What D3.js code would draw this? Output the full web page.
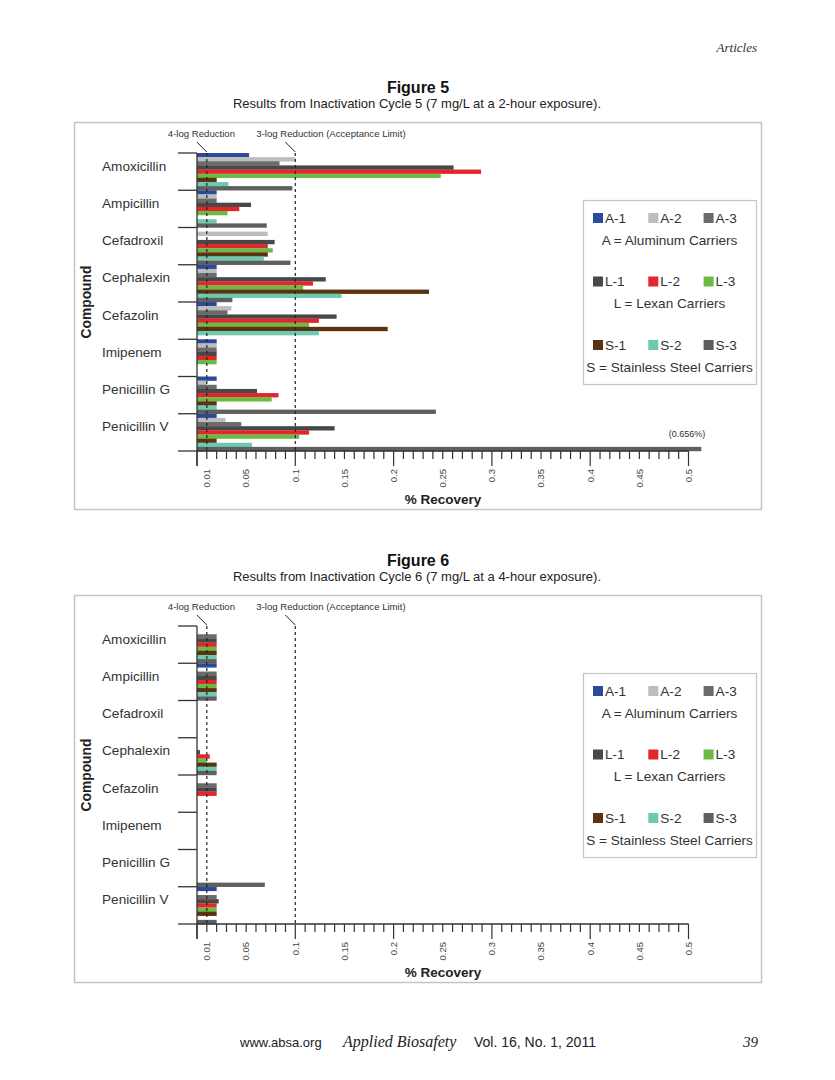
<!DOCTYPE html>
<html>
<head>
<meta charset="utf-8">
<script src="https://cdn.jsdelivr.net/npm/d3@7/dist/d3.min.js"></script>
<style>
  html, body { margin: 0; padding: 0; background: #fff; }
  svg { display: block; }
  text { font-family: "Liberation Sans", Arial, sans-serif; fill: #333; }
</style>
</head>
<body>
<svg id="page" width="835" height="1080"></svg>
<script>
// ---------------- data ----------------
const categories = ["Amoxicillin", "Ampicillin", "Cefadroxil", "Cephalexin", "Cefazolin", "Imipenem", "Penicillin G", "Penicillin V"];
const seriesKeys = ["A-1", "A-2", "A-3", "L-1", "L-2", "L-3", "S-1", "S-2", "S-3"];
const seriesColors = ["#2b4a9b", "#bdbdbd", "#6b6b6b", "#484848", "#e3262b", "#6cb945", "#5b3312", "#6ccab1", "#5f5f5f"];
const legendGroups = ["A = Aluminum Carriers", "L = Lexan Carriers", "S = Stainless Steel Carriers"];
const tickValues = [0.01, 0.05, 0.1, 0.15, 0.2, 0.25, 0.3, 0.35, 0.4, 0.45, 0.5];
const tickLabels = ["0.01", "0.05", "0.1", "0.15", "0.2", "0.25", "0.3", "0.35", "0.4", "0.45", "0.5"];
const limitValues = [0.01, 0.1];
const limitLabels = ["4-log Reduction", "3-log Reduction (Acceptance Limit)"];
const displayCap = 0.513; // off-scale bar is drawn broken here

// Figure 5 (% recovery), one array per series, in category order; null = no bar
const fig5_A1 = [0.053, 0.02, null, 0.02, 0.02, 0.02, 0.02, 0.02];
const fig5_A2 = [0.100, 0.02, 0.072, 0.02, 0.035, 0.02, 0.01, 0.029];
const fig5_A3 = [0.084, 0.02, null, 0.02, 0.031, 0.02, 0.02, 0.045];
const fig5_L1 = [0.261, 0.055, 0.079, 0.131, 0.142, 0.02, 0.061, 0.140];
const fig5_L2 = [0.289, 0.043, 0.072, 0.118, 0.124, 0.02, 0.083, 0.114];
const fig5_L3 = [0.248, 0.031, 0.077, 0.108, 0.114, 0.02, 0.076, 0.104];
const fig5_S1 = [0.02, null, 0.072, 0.236, 0.194, null, 0.02, 0.02];
const fig5_S2 = [0.032, 0.02, 0.068, 0.147, 0.124, null, 0.02, 0.056];
const fig5_S3 = [0.097, 0.071, 0.095, 0.036, null, null, 0.243, 0.656];

// Figure 6
const fig6_A1 = [null, 0.02, null, null, null, null, null, 0.02];
const fig6_A2 = [null, null, null, null, null, null, null, null];
const fig6_A3 = [0.02, 0.02, null, null, 0.02, null, null, 0.02];
const fig6_L1 = [0.02, 0.02, null, 0.003, 0.02, null, null, 0.022];
const fig6_L2 = [0.02, 0.02, null, 0.013, 0.02, null, null, 0.02];
const fig6_L3 = [0.02, 0.02, null, 0.01, null, null, null, 0.02];
const fig6_S1 = [0.02, 0.02, null, 0.02, null, null, null, 0.02];
const fig6_S2 = [0.02, 0.02, null, 0.02, null, null, null, null];
const fig6_S3 = [0.02, 0.02, null, 0.02, null, null, 0.069, 0.02];

const fig5 = [fig5_A1, fig5_A2, fig5_A3, fig5_L1, fig5_L2, fig5_L3, fig5_S1, fig5_S2, fig5_S3];
const fig6 = [fig6_A1, fig6_A2, fig6_A3, fig6_L1, fig6_L2, fig6_L3, fig6_S1, fig6_S2, fig6_S3];

// ---------------- drawing ----------------
const svg = d3.select("#page");

svg.append("text").attr("x", 757).attr("y", 52).attr("text-anchor", "end")
  .style("font-family", "'Liberation Serif', serif").style("font-style", "italic")
  .style("font-size", "13px").text("Articles");

function drawFigure(offsetY, title, subtitle, seriesData) {
  const g = svg.append("g").attr("transform", `translate(0,${offsetY})`);

  g.append("text").attr("x", 418).attr("y", 93).attr("text-anchor", "middle")
    .style("font-size", "16px").style("font-weight", "bold").style("fill", "#111").text(title);
  g.append("text").attr("x", 417).attr("y", 108).attr("text-anchor", "middle")
    .style("font-size", "13px").style("fill", "#222").text(subtitle);

  g.append("rect").attr("x", 74.5).attr("y", 122.5).attr("width", 687).attr("height", 387)
    .attr("fill", "none").attr("stroke", "#c4c4c4").attr("stroke-width", 1.5);

  const x = d3.scaleLinear().domain([0, 0.5]).range([197, 688.5]);
  const y = d3.scaleBand().domain(categories).range([153, 451]);
  const yi = d3.scaleBand().domain(seriesKeys).range([0, y.bandwidth()]);

  // bars
  seriesKeys.forEach((key, si) => {
    const vals = seriesData[si];
    g.append("g").selectAll("rect")
      .data(categories.map((c, ci) => ({ c, v: vals[ci] })).filter(d => d.v !== null))
      .join("rect")
      .attr("x", x(0))
      .attr("y", d => y(d.c) + yi(key))
      .attr("width", d => x(Math.min(d.v, displayCap)) - x(0))
      .attr("height", yi.bandwidth() + 0.2)
      .attr("fill", seriesColors[si]);
  });

  // off-scale note
  seriesData.forEach((vals, si) => {
    vals.forEach((v, ci) => {
      if (v !== null && v > displayCap) {
        g.append("text").attr("x", x(displayCap) + 4).attr("y", y(categories[ci]) + yi(seriesKeys[si]) - 10)
          .attr("text-anchor", "end").style("font-size", "9px").text(`(${v.toFixed(3)}%)`);
      }
    });
  });

  // y axis line + category ticks
  g.append("line").attr("x1", x(0)).attr("x2", x(0)).attr("y1", y.range()[0]).attr("y2", y.range()[1] + 15)
    .attr("stroke", "#333").attr("stroke-width", 1.3);
  const bounds = categories.map(c => y(c)).concat([y.range()[1]]);
  g.append("g").selectAll("line").data(bounds).join("line")
    .attr("x1", 178).attr("x2", x(0)).attr("y1", d => d).attr("y2", d => d)
    .attr("stroke", "#333").attr("stroke-width", 1.3);
  g.append("line").attr("x1", x(0)).attr("x2", x(0.5)).attr("y1", y.range()[1]).attr("y2", y.range()[1])
    .attr("stroke", "#333").attr("stroke-width", 1.3);

  g.append("g").selectAll("text").data(categories).join("text")
    .attr("x", 102).attr("y", d => y(d) + y.bandwidth() / 2 - 4.5)
    .attr("dominant-baseline", "middle").style("font-size", "13.6px").text(d => d);

  g.append("text").attr("transform", `translate(91,${(y.range()[0] + y.range()[1]) / 2}) rotate(-90)`)
    .attr("text-anchor", "middle").style("font-size", "13.8px").style("font-weight", "bold")
    .style("fill", "#222").text("Compound");

  // x ticks every 0.01, longer on tenths
  const minor = d3.range(0, 51).map(i => i / 100);
  g.append("g").selectAll("line").data(minor).join("line")
    .attr("x1", d => x(d)).attr("x2", d => x(d))
    .attr("y1", y.range()[1])
    .attr("y2", (d, i) => y.range()[1] + (i % 10 === 0 ? 15 : 8))
    .attr("stroke", "#333").attr("stroke-width", 1.2);

  g.append("g").selectAll("text").data(tickValues).join("text")
    .attr("transform", d => `translate(${x(d) + 3.3},${y.range()[1] + 18}) rotate(-90)`)
    .attr("text-anchor", "end").style("font-size", "9.5px").style("fill", "#444")
    .text((d, i) => tickLabels[i]);

  g.append("text").attr("x", 443).attr("y", 504).attr("text-anchor", "middle")
    .style("font-size", "13.5px").style("font-weight", "bold").style("fill", "#222").text("% Recovery");

  // reduction lines
  limitValues.forEach((v, i) => {
    const lx = x(v);
    g.append("line").attr("x1", lx).attr("x2", lx).attr("y1", y.range()[0]).attr("y2", y.range()[1])
      .attr("stroke", "#222").attr("stroke-width", 1.2).attr("stroke-dasharray", "3,3");
    g.append("line").attr("x1", lx - 10).attr("x2", lx).attr("y1", 142).attr("y2", 152)
      .attr("stroke", "#222").attr("stroke-width", 1);
    g.append("text").attr("x", lx - 39).attr("y", 137)
      .attr("text-anchor", "start").style("font-size", "9.6px").style("fill", "#333").text(limitLabels[i]);
  });

  // legend
  const lg = g.append("g");
  lg.append("rect").attr("x", 583.5).attr("y", 200.5).attr("width", 173).attr("height", 184)
    .attr("fill", "#fff").attr("stroke", "#c4c4c4").attr("stroke-width", 1.2);
  seriesKeys.forEach((key, si) => {
    const row = Math.floor(si / 3), col = si % 3;
    const sx = 593 + col * 55.3, sy = 213 + row * 63.5;
    lg.append("rect").attr("x", sx).attr("y", sy).attr("width", 10).attr("height", 10).attr("fill", seriesColors[si]);
    lg.append("text").attr("x", sx + 12).attr("y", sy + 9.5).style("font-size", "13.6px").text(key);
  });
  legendGroups.forEach((t, r) => {
    lg.append("text").attr("x", 669.5).attr("y", 244.5 + r * 63.5).attr("text-anchor", "middle")
      .style("font-size", "13.6px").text(t);
  });
}

drawFigure(0, "Figure 5", "Results from Inactivation Cycle 5 (7 mg/L at a 2-hour exposure).", fig5);
drawFigure(473, "Figure 6", "Results from Inactivation Cycle 6 (7 mg/L at a 4-hour exposure).", fig6);

// footer
const ft = svg.append("g");
ft.append("text").attr("x", 240).attr("y", 1047).style("font-size", "13px").style("fill", "#222").text("www.absa.org");
ft.append("text").attr("x", 343).attr("y", 1047).style("font-family", "'Liberation Serif', serif")
  .style("font-style", "italic").style("font-size", "16px").style("fill", "#222").text("Applied Biosafety");
ft.append("text").attr("x", 474).attr("y", 1047).style("font-size", "14px").style("fill", "#222").text("Vol. 16, No. 1, 2011");
ft.append("text").attr("x", 758).attr("y", 1047).attr("text-anchor", "end").style("font-family", "'Liberation Serif', serif")
  .style("font-style", "italic").style("font-size", "15px").style("fill", "#222").text("39");
</script>
</body>
</html>
